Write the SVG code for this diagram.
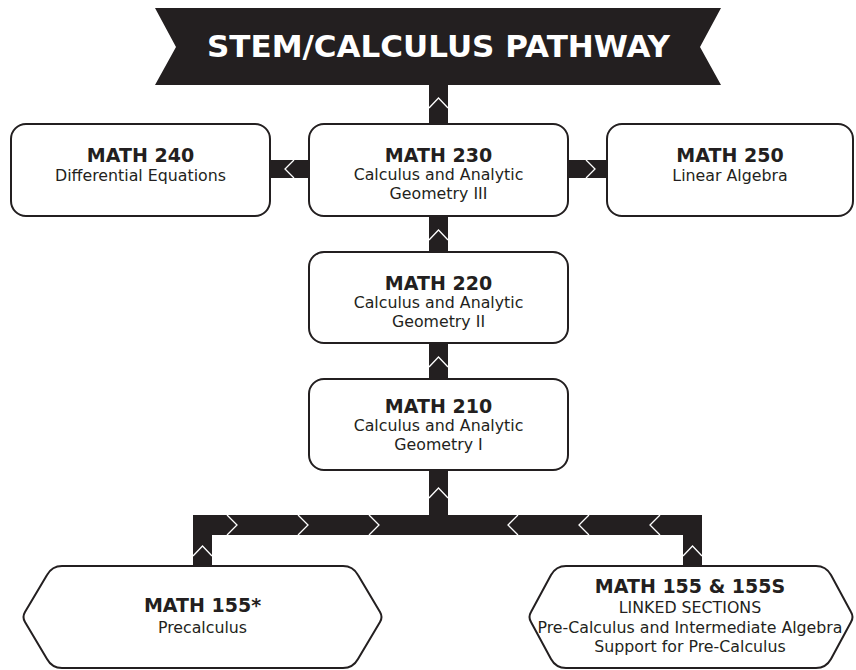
<svg xmlns="http://www.w3.org/2000/svg" width="856" height="670" viewBox="0 0 856 670">
  <style>
    .box { fill: #ffffff; stroke: #231f20; stroke-width: 2; }
    .bar { fill: #231f20; }
    .chev { fill: none; stroke: #ffffff; stroke-width: 1.3; }
    .t { font-family: "DejaVu Sans", "Liberation Sans", sans-serif; font-weight: bold; font-size: 19px; fill: #231f20; text-anchor: middle; }
    .s { font-family: "DejaVu Sans", "Liberation Sans", sans-serif; font-size: 15.8px; fill: #231f20; text-anchor: middle; }
    .banner-text { font-family: "DejaVu Sans", "Liberation Sans", sans-serif; font-weight: bold; font-size: 30.5px; fill: #ffffff; text-anchor: middle; }
  </style>
  <rect width="856" height="670" fill="#ffffff"/>

  <g id="connectors">
    <!-- banner to 230 -->
    <rect class="bar" x="429" y="84" width="19" height="41"/>
    <polyline class="chev" points="429,108 438.5,98 448,108"/>
    <!-- 230 to 240 -->
    <rect class="bar" x="269" y="160" width="40" height="18"/>
    <polyline class="chev" points="294,160 285,169 294,178"/>
    <!-- 230 to 250 -->
    <rect class="bar" x="567" y="160" width="40" height="18"/>
    <polyline class="chev" points="586,160 595,169 586,178"/>
    <!-- 220 to 230 -->
    <rect class="bar" x="429" y="215" width="19" height="38"/>
    <polyline class="chev" points="429,240 438.5,230 448,240"/>
    <!-- 210 to 220 -->
    <rect class="bar" x="429" y="342" width="19" height="38"/>
    <polyline class="chev" points="429,367 438.5,357 448,367"/>
    <!-- bus -->
    <rect class="bar" x="429" y="469" width="19" height="47"/>
    <polyline class="chev" points="429,498 438.5,488 448,498"/>
    <rect class="bar" x="193" y="515" width="509" height="20"/>
    <rect class="bar" x="193" y="515" width="19" height="52"/>
    <rect class="bar" x="683" y="515" width="19" height="52"/>
    <polyline class="chev" points="193,556 202.5,546 212,556"/>
    <polyline class="chev" points="683,556 692.5,546 702,556"/>
    <polyline class="chev" points="227,515 237,525 227,535"/>
    <polyline class="chev" points="298,515 308,525 298,535"/>
    <polyline class="chev" points="369,515 379,525 369,535"/>
    <polyline class="chev" points="518,515 508,525 518,535"/>
    <polyline class="chev" points="589,515 579,525 589,535"/>
    <polyline class="chev" points="660,515 650,525 660,535"/>
  </g>

  <g id="banner">
    <polygon points="155,8 721,8 700,47 721,85 155,85 176,47" fill="#231f20"/>
    <text class="banner-text" x="438.5" y="57" textLength="463" lengthAdjust="spacingAndGlyphs">STEM/CALCULUS PATHWAY</text>
  </g>

  <g id="math240">
    <rect class="box" x="11" y="124" width="259" height="92" rx="15"/>
    <text class="t" x="140.5" y="162">MATH 240</text>
    <text class="s" x="140.5" y="181">Differential Equations</text>
  </g>

  <g id="math230">
    <rect class="box" x="309" y="124" width="259" height="92" rx="15"/>
    <text class="t" x="438.5" y="162">MATH 230</text>
    <text class="s" x="438.5" y="180">Calculus and Analytic</text>
    <text class="s" x="438.5" y="199">Geometry III</text>
  </g>

  <g id="math250">
    <rect class="box" x="607" y="124" width="246" height="92" rx="15"/>
    <text class="t" x="730" y="162">MATH 250</text>
    <text class="s" x="730" y="181">Linear Algebra</text>
  </g>

  <g id="math220">
    <rect class="box" x="309" y="252" width="259" height="91" rx="15"/>
    <text class="t" x="438.5" y="290">MATH 220</text>
    <text class="s" x="438.5" y="308">Calculus and Analytic</text>
    <text class="s" x="438.5" y="327">Geometry II</text>
  </g>

  <g id="math210">
    <rect class="box" x="309" y="379" width="259" height="91" rx="15"/>
    <text class="t" x="438.5" y="413">MATH 210</text>
    <text class="s" x="438.5" y="431">Calculus and Analytic</text>
    <text class="s" x="438.5" y="450">Geometry I</text>
  </g>

  <g id="math155">
    <path class="box" d="M 62,566 L 343,566 Q 353,566 358,575 L 380,612 Q 383,617 380,622 L 358,659 Q 353,668 343,668 L 62,668 Q 52,668 47,659 L 25,622 Q 22,617 25,612 L 47,575 Q 52,566 62,566 Z"/>
    <text class="t" x="202.5" y="612">MATH 155*</text>
    <text class="s" x="202.5" y="633">Precalculus</text>
  </g>

  <g id="math155s">
    <path class="box" d="M 566,566 L 816,566 Q 826,566 831,575 L 851,612 Q 854,617 851,622 L 831,659 Q 826,668 816,668 L 566,668 Q 556,668 551,659 L 531,622 Q 528,617 531,612 L 551,575 Q 556,566 566,566 Z"/>
    <text class="t" x="690" y="593">MATH 155 &amp; 155S</text>
    <text class="s" x="690" y="613">LINKED SECTIONS</text>
    <text class="s" x="690" y="633">Pre-Calculus and Intermediate Algebra</text>
    <text class="s" x="690" y="652">Support for Pre-Calculus</text>
  </g>
</svg>
